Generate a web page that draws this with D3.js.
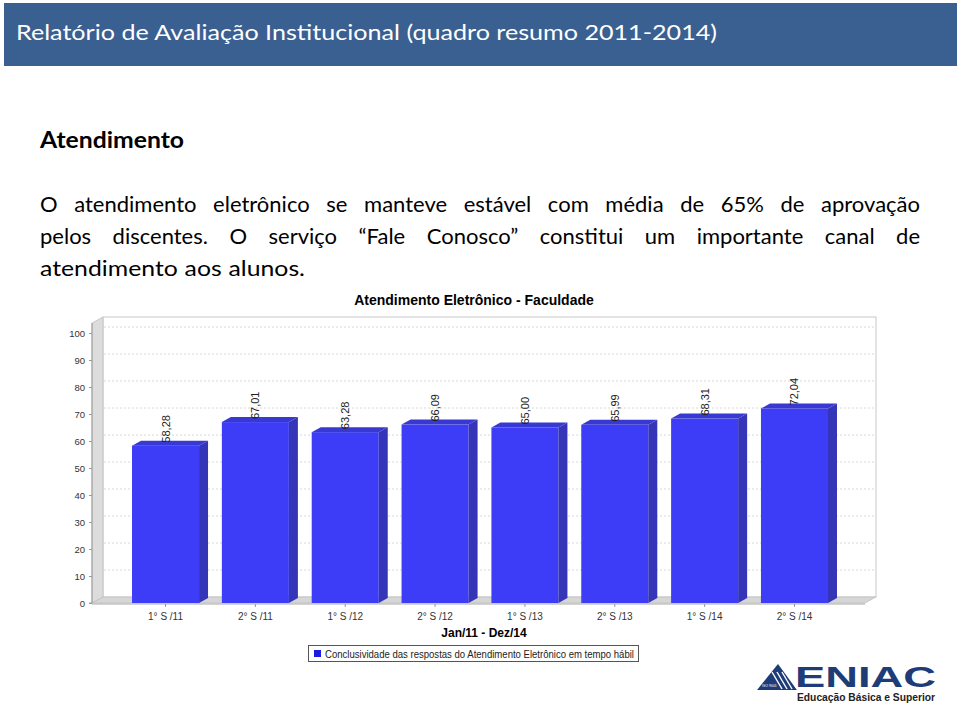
<!DOCTYPE html>
<html><head><meta charset="utf-8">
<script src="https://cdn.jsdelivr.net/npm/d3@7"></script>
<style>body{margin:0;background:#fff;overflow:hidden}</style></head>
<body>
<svg id="c" width="960" height="703" xmlns="http://www.w3.org/2000/svg"></svg>
<script>
// ---- data ----
const categories = ["1° S /11","2° S /11","1° S /12","2° S /12","1° S /13","2° S /13","1° S /14","2° S /14"];
const values = [58.28, 67.01, 63.28, 66.09, 65.00, 65.99, 68.31, 72.04];
const yTicks = [0,10,20,30,40,50,60,70,80,90,100];
const headerTitle = "Relatório de Avaliação Institucional  (quadro resumo 2011-2014)";
const sectionTitle = "Atendimento";
const paragraphLines = [
  "O atendimento eletrônico se manteve estável com média de 65% de aprovação",
  "pelos discentes. O serviço “Fale Conosco” constitui um importante canal de",
  "atendimento aos alunos."
];
const chartTitle = "Atendimento Eletrônico - Faculdade";
const xAxisTitle = "Jan/11 - Dez/14";
const legendLabel = "Conclusividade das respostas do Atendimento Eletrônico em tempo hábil";

// ---- drawing ----
const svg = d3.select("#c");
const slideFont = "Lato, 'Open Sans', sans-serif";
const chartFont = "'Liberation Sans', Arial, sans-serif";

// header band
svg.append("rect").attr("x",4).attr("y",3).attr("width",953).attr("height",63).attr("fill","#3A5F91");
svg.append("text").attr("x",16).attr("y",40).attr("fill","#fff")
  .style("font-family",slideFont).style("font-size","22px")
  .attr("textLength",701).attr("lengthAdjust","spacingAndGlyphs")
  .text(headerTitle);

svg.append("text").attr("x",40).attr("y",148).attr("fill","#000")
  .style("font-family",slideFont).style("font-size","22px").style("font-weight","bold")
  .attr("textLength",144).attr("lengthAdjust","spacingAndGlyphs")
  .text(sectionTitle);

// paragraph (justified lines 1-2)
const baselines = [212, 244, 276];
paragraphLines.forEach((line, i) => {
  const words = line.split(" ");
  const g = svg.append("g");
  const nodes = words.map(w => g.append("text").attr("y", baselines[i])
      .style("font-family",slideFont).style("font-size","22px").attr("fill","#000").text(w));
  const widths = nodes.map(n => n.node().getComputedTextLength());
  const total = d3.sum(widths);
  let gap;
  if (i < 2) gap = (920 - 40 - total) / (words.length - 1);
  else gap = 6;
  let x = 40;
  nodes.forEach((n, k) => { n.attr("x", x); x += widths[k] + gap; });
  if (i === 2) {
    const w = x - gap - 40;
    g.attr("transform", `translate(40,0) scale(${265 / w},1) translate(-40,0)`);
  }
});

// chart geometry
const y = d3.scaleLinear().domain([0,100]).range([603,333]);
const x = d3.scaleBand().domain(categories).range([120.6, 839.4]).padding(0);
const barW = x.bandwidth() * 0.746;
const wallDx = 11, wallDy = 6;
const barDx = 9, barDy = 5;
const axisX = 92, wallRight = 876;

svg.append("text").attr("x",474).attr("y",305).attr("text-anchor","middle")
  .style("font-family",chartFont).style("font-size","14px").style("font-weight","bold")
  .attr("fill","#000").text(chartTitle);

// back wall
svg.append("rect").attr("x",axisX+wallDx).attr("y",y(100)-wallDy-10)
  .attr("width",wallRight-axisX-wallDx).attr("height",y(0)-wallDy-(y(100)-wallDy-10))
  .attr("fill","#fff").attr("stroke","#c8c8c8").attr("stroke-width",1);
// left wall
svg.append("polygon").attr("points",[[axisX,y(100)-10],[axisX+wallDx,y(100)-wallDy-10],[axisX+wallDx,y(0)-wallDy],[axisX,y(0)]].join(" "))
  .attr("fill","#dcdcdc").attr("stroke","#c0c0c0").attr("stroke-width",0.8);
// floor
svg.append("polygon").attr("points",[[axisX,y(0)],[axisX+wallDx,y(0)-wallDy],[wallRight,y(0)-wallDy],[wallRight-wallDx,y(0)]].join(" "))
  .attr("fill","#d6d6d6").attr("stroke","#c0c0c0").attr("stroke-width",0.8);

// gridlines on back wall
svg.append("g").selectAll("line").data(yTicks.filter(d=>d>0)).join("line")
  .attr("x1",axisX+wallDx+1).attr("x2",wallRight-1)
  .attr("y1",d=>y(d)-wallDy).attr("y2",d=>y(d)-wallDy)
  .attr("stroke","#d8d8d8").attr("stroke-width",1).attr("stroke-dasharray","2,2");

// y axis
const yAxis = d3.axisLeft(y).tickValues(yTicks).tickSize(3).tickPadding(4);
const gy = svg.append("g").attr("transform",`translate(${axisX},0)`).call(yAxis);
gy.select(".domain").attr("stroke","#999").attr("d",`M-3,${y(0)}H0V${y(100)-10}`);
gy.selectAll(".tick line").attr("stroke","#999");
gy.selectAll("text").style("font-family",chartFont).style("font-size","9.5px").attr("fill","#333");

// x axis
const xAxis = d3.axisBottom(x).tickSize(3).tickPadding(6);
const gx = svg.append("g").attr("transform",`translate(0,${y(0)+1})`).call(xAxis);
gx.select(".domain").attr("stroke","#aaa").attr("d",`M${axisX},0H${wallRight-wallDx}`);
gx.selectAll(".tick line").attr("stroke","#999");
gx.selectAll("text").style("font-family",chartFont).style("font-size","10px").attr("fill","#333");

// bars
const bars = svg.append("g").selectAll("g").data(values).join("g");
const bx = (d,i) => x(categories[i]) + (x.bandwidth()-barW)/2;
bars.append("rect").attr("x",bx).attr("y",d=>y(d)).attr("width",barW).attr("height",d=>y(0)-y(d))
  .attr("fill","#3D3DF7");
bars.append("polygon").attr("points",(d,i)=>{
  const x0 = bx(d,i)+barW, y0 = y(d), y1 = y(0);
  return [[x0,y0],[x0+barDx,y0-barDy],[x0+barDx,y1-barDy],[x0,y1]].join(" ");
}).attr("fill","#3535B8");
bars.append("polygon").attr("points",(d,i)=>{
  const x0 = bx(d,i), y0 = y(d);
  return [[x0,y0],[x0+barDx,y0-barDy],[x0+barW+barDx,y0-barDy],[x0+barW,y0]].join(" ");
}).attr("fill","#3838D2");

// value labels
const fmt = v => d3.format(".2f")(v).replace(".", ",");
bars.append("text")
  .attr("transform",(d,i)=>`translate(${x(categories[i])+x.bandwidth()/2+4},${y(d)-3}) rotate(-90)`)
  .style("font-family",chartFont).style("font-size","11px").attr("fill","#222")
  .text(d=>fmt(d));

// x-axis title
svg.append("text").attr("x",484).attr("y",637).attr("text-anchor","middle")
  .style("font-family",chartFont).style("font-size","12px").style("font-weight","bold")
  .attr("fill","#000").text(xAxisTitle);

// legend
svg.append("rect").attr("x",308.5).attr("y",645.5).attr("width",330).attr("height",16)
  .attr("fill","#fff").attr("stroke","#555").attr("stroke-width",1);
svg.append("rect").attr("x",314).attr("y",650).attr("width",7).attr("height",7).attr("fill","#1a1ae6");
svg.append("text").attr("x",325).attr("y",657.5)
  .style("font-family",chartFont).style("font-size","10px").attr("fill","#222")
  .attr("textLength",309).attr("lengthAdjust","spacingAndGlyphs")
  .text(legendLabel);

// ENIAC logo
const logo = svg.append("g");
logo.append("polygon").attr("points","757,690 778,664 797,690").attr("fill","#1E3C78");
[0,1,2,3].forEach(k=>{
  logo.append("line").attr("x1",772+k*5).attr("y1",672).attr("x2",782+k*5).attr("y2",689)
    .attr("stroke","#fff").attr("stroke-width",1.4);
});
logo.append("text").attr("x",762).attr("y",687).style("font-family",chartFont).style("font-size","3.5px")
  .attr("fill","#fff").text("ISO 9001");
logo.append("text").attr("x",795).attr("y",687)
  .style("font-family",chartFont).style("font-size","29px").style("font-weight","bold")
  .attr("fill","#1E3C78").attr("textLength",141).attr("lengthAdjust","spacingAndGlyphs").text("ENIAC");
logo.append("text").attr("x",797).attr("y",701)
  .style("font-family",chartFont).style("font-size","10px").style("font-weight","bold")
  .attr("fill","#222").attr("textLength",138).attr("lengthAdjust","spacingAndGlyphs").text("Educação Básica e Superior");
</script>
</body></html>
